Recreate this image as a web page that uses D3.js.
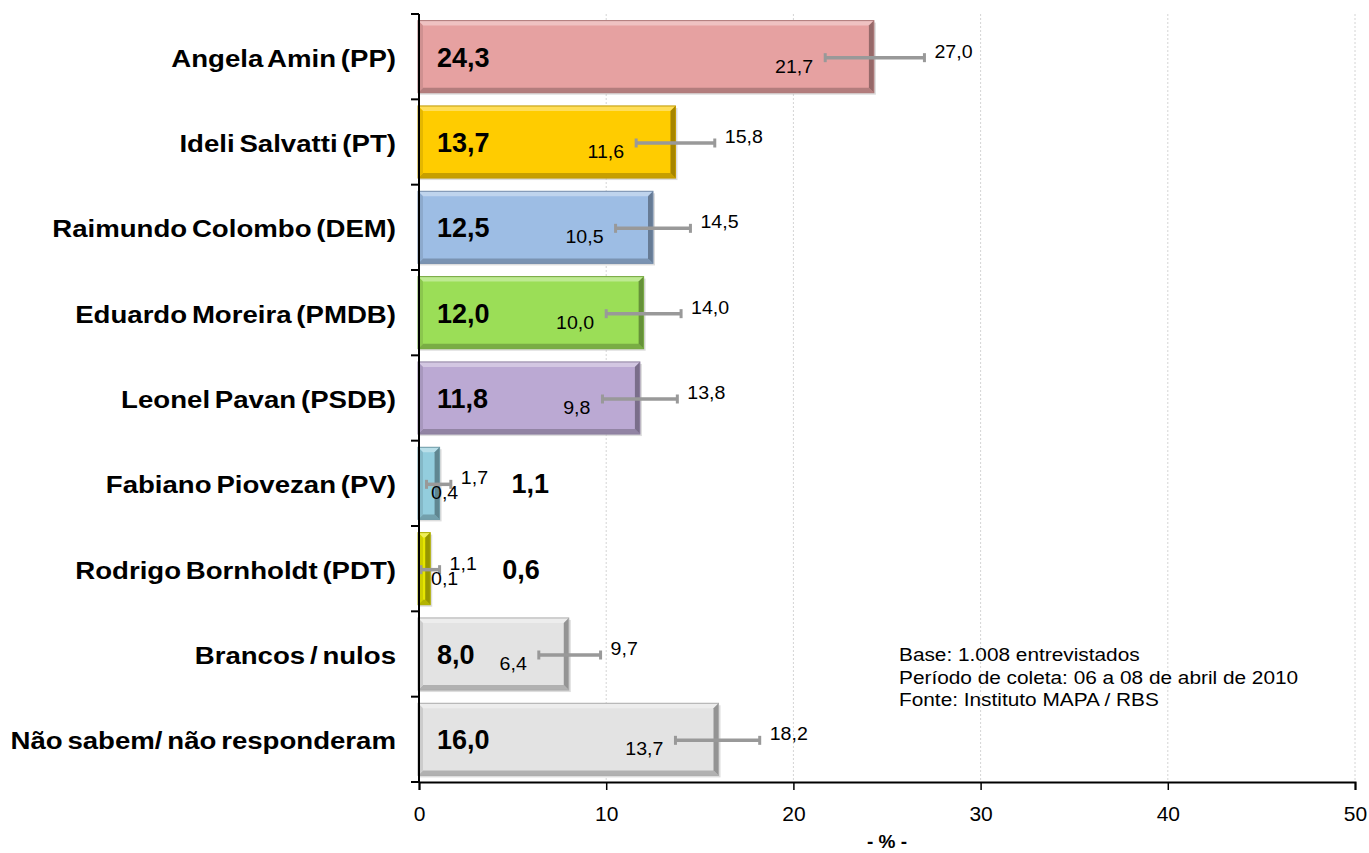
<!DOCTYPE html>
<html>
<head>
<meta charset="utf-8">
<script src="https://cdn.jsdelivr.net/npm/d3@7/dist/d3.min.js"></script>
<style>
  body { margin: 0; background: #fff; }
  svg { display: block; font-family: "Liberation Sans", Arial, sans-serif; }
</style>
</head>
<body>
<div id="chart"></div>
<script>
var names = ["Angela Amin (PP)", "Ideli Salvatti (PT)", "Raimundo Colombo (DEM)", "Eduardo Moreira (PMDB)",
  "Leonel Pavan (PSDB)", "Fabiano Piovezan (PV)", "Rodrigo Bornholdt (PDT)", "Brancos / nulos", "Não sabem/ não responderam"];
var values = [24.3, 13.7, 12.5, 12.0, 11.8, 1.1, 0.6, 8.0, 16.0];
var lows = [21.7, 11.6, 10.5, 10.0, 9.8, 0.4, 0.1, 6.4, 13.7];
var highs = [27.0, 15.8, 14.5, 14.0, 13.8, 1.7, 1.1, 9.7, 18.2];
var colors = ["#e6a1a1", "#ffcc00", "#9dbde4", "#9bde57", "#bba9d3", "#93cddd", "#e6e600", "#e3e3e3", "#e3e3e3"];
var xTicks = [0, 10, 20, 30, 40, 50];
var notes = ["Base: 1.008 entrevistados", "Período de coleta: 06 a 08 de abril de 2010", "Fonte: Instituto MAPA / RBS"];

var fmt = function(v) { return d3.format(".1f")(v).replace(".", ","); };

var width = 1369, height = 853;
var svg = d3.select("#chart").append("svg").attr("width", width).attr("height", height);

var x = d3.scaleLinear().domain([0, 50]).range([419, 1355]);
var y = d3.scaleBand().domain(names).range([14, 782]).paddingInner(0.155).paddingOuter(0.0775);

// gridlines
svg.append("g").selectAll("line").data(xTicks.slice(1)).enter().append("line")
  .attr("x1", function(d) { return x(d); }).attr("x2", function(d) { return x(d); })
  .attr("y1", 14).attr("y2", 782)
  .attr("stroke", "#d4d4d4").attr("stroke-width", 1).attr("stroke-dasharray", "2,2");

// bars with bevel
var bev = 5;
var bars = svg.append("g").selectAll("g").data(names).enter().append("g");
bars.each(function(name, i) {
  var g = d3.select(this);
  var x0 = x(0) - 1, x1 = x(values[i]), y0 = y(name), y1 = y0 + y.bandwidth();
  var c = d3.color(colors[i]);
  var b = Math.min(bev, (x1 - x0) / 2);
  g.append("rect").attr("x", x0 + 2).attr("y", y0 + 2).attr("width", x1 - x0).attr("height", y1 - y0)
    .attr("fill", "#bbb").attr("opacity", 0.5);
  g.append("rect").attr("x", x0).attr("y", y0).attr("width", x1 - x0).attr("height", y1 - y0).attr("fill", c);
  g.append("path").attr("d", "M" + x0 + "," + y0 + "H" + x1 + "L" + (x1 - b) + "," + (y0 + bev) + "H" + (x0 + b) + "Z")
    .attr("fill", d3.interpolateRgb(c, "#fff")(0.35));
  g.append("path").attr("d", "M" + x0 + "," + y1 + "H" + x1 + "L" + (x1 - b) + "," + (y1 - bev) + "H" + (x0 + b) + "Z")
    .attr("fill", c.darker(0.7));
  g.append("path").attr("d", "M" + x1 + "," + y0 + "V" + y1 + "L" + (x1 - b) + "," + (y1 - bev) + "V" + (y0 + bev) + "Z")
    .attr("fill", c.darker(1.2));
  g.append("path").attr("d", "M" + x0 + "," + y0 + "V" + y1 + "L" + (x0 + b) + "," + (y1 - bev) + "V" + (y0 + bev) + "Z")
    .attr("fill", c.darker(0.3));
  g.append("rect").attr("x", x0).attr("y", y0).attr("width", x1 - x0).attr("height", y1 - y0)
    .attr("fill", "none").attr("stroke", c.darker(0.8)).attr("stroke-width", 1);
});

// error bars
var err = svg.append("g");
names.forEach(function(name, i) {
  var cy = y(name) + y.bandwidth() / 2 + 1;
  var xl = x(lows[i]), xh = x(highs[i]);
  err.append("line").attr("x1", xl).attr("x2", xh).attr("y1", cy).attr("y2", cy)
    .attr("stroke", "#999").attr("stroke-width", 3.5);
  [xl, xh].forEach(function(xx) {
    err.append("line").attr("x1", xx).attr("x2", xx).attr("y1", cy - 4.5).attr("y2", cy + 4.5)
      .attr("stroke", "#999").attr("stroke-width", 3);
  });
  err.append("text").attr("transform", "translate(" + (xh + 10) + "," + cy + ") scale(1.12,1)")
    .attr("font-size", 17.5).attr("fill", "#000").text(fmt(highs[i]));
  var lt = err.append("text").attr("font-size", 17.5).attr("fill", "#000").text(fmt(lows[i]));
  var w = lt.node().getComputedTextLength() * 1.12;
  var lx = xl - 12 - w;
  if (lx < x(0) + 8) lx = x(0) + 12;
  lt.attr("transform", "translate(" + lx + "," + (cy + 15) + ") scale(1.12,1)");
});

// value labels
svg.append("g").selectAll("text").data(names).enter().append("text")
  .attr("x", function(d, i) { return values[i] < 3 ? x(values[i]) + 72 : x(0) + 18; })
  .attr("y", function(d) { return y(d) + y.bandwidth() / 2 + 10; })
  .attr("font-size", 27).attr("font-weight", "bold").attr("fill", "#000")
  .text(function(d, i) { return fmt(values[i]); });

// category labels
svg.append("g").selectAll("text").data(names).enter().append("text")
  .attr("transform", function(d) { return "translate(396," + (y(d) + y.bandwidth() / 2 + 10) + ") scale(1.15,1)"; })
  .attr("text-anchor", "end").attr("font-size", 24).attr("font-weight", "bold").attr("fill", "#000")
  .attr("word-spacing", -2.5)
  .text(function(d) { return d; });

// y axis line and ticks
var yAx = svg.append("g");
yAx.append("line").attr("x1", x(0)).attr("x2", x(0)).attr("y1", y.range()[0]).attr("y2", y.range()[1])
  .attr("stroke", "#000").attr("stroke-width", 2);
yAx.selectAll(".tk").data(d3.range(names.length + 1)).enter().append("line")
  .attr("x1", x(0) - 8).attr("x2", x(0))
  .attr("y1", function(d) { return y.range()[0] + d * (y.range()[1] - y.range()[0]) / names.length; })
  .attr("y2", function(d) { return y.range()[0] + d * (y.range()[1] - y.range()[0]) / names.length; })
  .attr("stroke", "#000").attr("stroke-width", 2);

// x axis
var xAx = svg.append("g").attr("transform", "translate(0,782)")
  .call(d3.axisBottom(x).tickValues(xTicks).tickSize(8).tickPadding(16).tickFormat(d3.format("d")));
xAx.select(".domain").attr("stroke", "#000").attr("stroke-width", 2);
xAx.selectAll(".tick line").attr("stroke", "#000").attr("stroke-width", 1.5);
xAx.selectAll(".tick text").attr("font-size", 21).attr("fill", "#000")
  .attr("font-family", "'Liberation Sans', Arial, sans-serif");

svg.append("text").attr("x", (x(0) + x(50)) / 2).attr("y", 848).attr("text-anchor", "middle")
  .attr("font-size", 19).attr("font-weight", "bold").text("- % -");

// notes
svg.append("g").selectAll("text").data(notes).enter().append("text")
  .attr("transform", function(d, i) { return "translate(899," + (661 + i * 22.5) + ") scale(1.19,1)"; })
  .attr("font-size", 17.5).attr("fill", "#000").text(function(d) { return d; });
</script>
</body>
</html>
